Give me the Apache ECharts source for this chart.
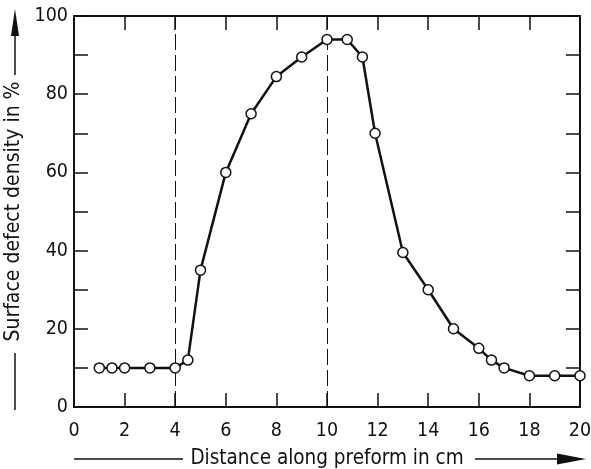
<!DOCTYPE html>
<html>
<head>
<meta charset="utf-8">
<script src="https://cdn.jsdelivr.net/npm/echarts@6/dist/echarts.min.js"></script>
<style>
  html, body { margin: 0; padding: 0; background: #ffffff; }
  #chart { width: 591px; height: 469px; }
</style>
</head>
<body>
<div id="chart"></div>
<script>
// ---- data ----
var distanceCm = [1, 1.5, 2, 3, 4, 4.5, 5, 6, 7, 8, 9, 10, 10.8, 11.4, 11.9, 13, 14, 15, 16, 16.5, 17, 18, 19, 20];
var defectPct  = [10, 10, 10, 10, 10, 12, 35, 60, 75, 84.5, 89.5, 94, 94, 89.5, 70, 39.5, 30, 20, 15, 12, 10, 8, 8, 8];
var dashedAt   = [4, 10];
var xLabelText = "Distance along preform in cm";
var yLabelText = "Surface defect density in %";

var INK  = "#111111";
var FONT = "'DejaVu Sans Condensed', 'DejaVu Sans', sans-serif";

var chart = echarts.init(document.getElementById("chart"));

var points = distanceCm.map(function (x, i) { return [x, defectPct[i]]; });

function boxAxis(extra) {
  var base = {
    type: "value",
    axisLine: { show: true, onZero: false, lineStyle: { color: INK, width: 2 } },
    axisTick: { show: true, inside: true, length: 14, lineStyle: { color: INK, width: 1.5 } },
    splitLine: { show: false },
    axisLabel: { show: false }
  };
  for (var k in extra) base[k] = extra[k];
  return base;
}

chart.setOption({
  backgroundColor: "#ffffff",
  animation: false,
  grid: { left: 74, right: 11, top: 16, bottom: 62, containLabel: false, outerBoundsMode: "none" },

  xAxis: [
    boxAxis({
      position: "bottom", min: 0, max: 20, interval: 2,
      axisLabel: { show: true, fontSize: 19.5, margin: 14, color: INK, fontFamily: FONT },
      name: xLabelText, nameLocation: "middle", nameGap: 41,
      nameTextStyle: { fontSize: 20.5, color: INK, fontFamily: FONT }
    }),
    boxAxis({ position: "top", min: 0, max: 20, interval: 2 })
  ],
  yAxis: [
    boxAxis({
      position: "left", min: 0, max: 100, interval: 10,
      axisLabel: {
        show: true, fontSize: 19.5, margin: 6, color: INK, fontFamily: FONT,
        formatter: function (v) { return v % 20 === 0 ? String(v) : ""; }
      },
      name: yLabelText, nameLocation: "middle", nameRotate: 90, nameGap: 42,
      nameTextStyle: { fontSize: 21, color: INK, fontFamily: FONT }
    }),
    boxAxis({ position: "right", min: 0, max: 100, interval: 10 })
  ],

  series: [{
    type: "line",
    data: points,
    symbol: "circle",
    symbolSize: 10,
    showSymbol: true,
    lineStyle: { color: INK, width: 2.5 },
    itemStyle: { color: "#ffffff", borderColor: INK, borderWidth: 1.5 },
    z: 5,
    markLine: {
      silent: true,
      symbol: "none",
      label: { show: false },
      lineStyle: { color: INK, width: 1, type: [16, 5] },
      data: dashedAt.map(function (v) { return { xAxis: v }; })
    }
  }],

  // arrow decorations around the axis titles
  graphic: [
    { type: "line", shape: { x1: 74, y1: 459, x2: 183, y2: 459 }, style: { stroke: INK, lineWidth: 1.5 } },
    { type: "line", shape: { x1: 475, y1: 459, x2: 560, y2: 459 }, style: { stroke: INK, lineWidth: 1.5 } },
    { type: "polygon", shape: { points: [[557, 453.5], [586, 459], [557, 464.5]] }, style: { fill: INK } },
    { type: "line", shape: { x1: 15, y1: 353, x2: 15, y2: 410 }, style: { stroke: INK, lineWidth: 1.5 } },
    { type: "line", shape: { x1: 15, y1: 75, x2: 15, y2: 36 }, style: { stroke: INK, lineWidth: 1.5 } },
    { type: "polygon", shape: { points: [[11, 36], [15, 9], [19, 36]] }, style: { fill: INK } }
  ]
});
</script>
</body>
</html>
